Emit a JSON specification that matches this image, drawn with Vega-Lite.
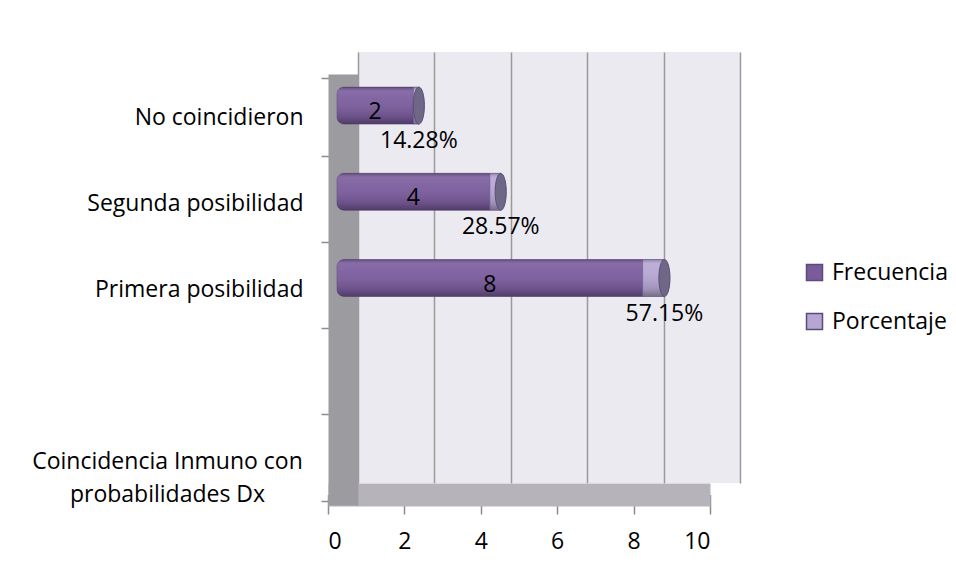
{
  "$schema": "https://vega.github.io/schema/vega-lite/v6.json",
  "width": 382,
  "height": 431,
  "autosize": {"type": "none"},
  "padding": {"left": 358, "top": 52, "right": 216, "bottom": 97},
  "background": "white",
  "config": {
    "view": {"fill": "#ECEAF1", "stroke": null},
    "font": "Open Sans",
    "text": {"font": "Open Sans"}
  },
  "data": {
    "values": [
      {"categoria": "Primera posibilidad", "serie": "Frecuencia", "valor": 8},
      {"categoria": "Primera posibilidad", "serie": "Porcentaje", "valor": 0.5715},
      {"categoria": "Segunda posibilidad", "serie": "Frecuencia", "valor": 4},
      {"categoria": "Segunda posibilidad", "serie": "Porcentaje", "valor": 0.2857},
      {"categoria": "No coincidieron", "serie": "Frecuencia", "valor": 2},
      {"categoria": "No coincidieron", "serie": "Porcentaje", "valor": 0.1428}
    ]
  },
  "transform": [
    {"stack": "valor", "groupby": ["categoria"], "sort": [{"field": "serie", "order": "ascending"}], "as": ["x0", "x1"]},
    {"calculate": "(datum.x0 + datum.x1) / 2", "as": "xm"}
  ],
  "resolve": {"axis": {"x": "independent", "y": "independent"}},
  "layer": [
    {
      "transform": [{"filter": "datum.serie == 'Frecuencia'"}],
      "mark": {"type": "bar", "height": 37, "cornerRadiusTopLeft": 7, "cornerRadiusBottomLeft": 7, "xOffset": -21, "x2Offset": -21, "yOffset": 10.5, "y2Offset": 10.5, "stroke": "#5E4A82", "strokeWidth": 0.8, "strokeOpacity": 0.7},
      "encoding": {
        "x": {"field": "x0", "type": "quantitative", "scale": {"domain": [0, 10], "nice": false},
          "axis": {"orient": "bottom", "grid": true, "gridColor": "#9A9A9A", "gridWidth": 1.5, "labels": false, "ticks": false, "domain": false, "title": null, "values": [0, 2, 4, 6, 8, 10]}},
        "x2": {"field": "x1"},
        "y": {"field": "categoria", "type": "nominal",
          "scale": {"domain": ["No coincidieron", "Segunda posibilidad", "Primera posibilidad", " ", "Coincidencia Inmuno con probabilidades Dx"]},
          "axis": {
            "orient": "left", "position": 22, "offset": 15, "title": null,
            "domain": true, "domainColor": "#9C9B9F", "domainWidth": 30,
            "ticks": true, "tickBand": "extent", "tickColor": "#8C8C8C", "tickSize": 22, "tickWidth": 1.5,
            "labelFont": "Open Sans", "labelFontSize": 23, "labelColor": "#000000", "labelLimit": 0,
            "labelLineHeight": 33,
            "labelExpr": "datum.value == 'Coincidencia Inmuno con probabilidades Dx' ? ['Coincidencia Inmuno con', 'probabilidades Dx'] : datum.value",
            "labelAlign": {"condition": {"test": "datum.value == 'Coincidencia Inmuno con probabilidades Dx'", "value": "center"}, "value": "right"},
            "labelPadding": {"condition": {"test": "datum.value == 'Coincidencia Inmuno con probabilidades Dx'", "value": 154}, "value": 18}
          }},
        "color": {"field": "serie", "type": "nominal",
          "scale": {"domain": ["Frecuencia", "Porcentaje"], "range": ["#7A5C9D", "#B5A6D3"]},
          "legend": {"orient": "none", "legendX": 445, "legendY": 209, "title": null, "symbolType": "square", "symbolSize": 256, "symbolStrokeColor": "#5B4A7A", "symbolStrokeWidth": 1.5, "labelFont": "Open Sans", "labelFontSize": 23, "labelColor": "#000000", "labelOffset": 6, "rowPadding": 25}}
      }
    },
    {
      "transform": [{"filter": "datum.serie == 'Frecuencia'"}],
      "mark": {"type": "bar", "height": 37, "cornerRadiusTopLeft": 7, "cornerRadiusBottomLeft": 7, "xOffset": -21, "x2Offset": -21, "yOffset": 10.5, "y2Offset": 10.5,
        "fill": {"gradient": "linear", "x1": 0, "y1": 0, "x2": 0, "y2": 1, "stops": [
          {"offset": 0, "color": "rgba(0,0,0,0.25)"},
          {"offset": 0.12, "color": "rgba(255,255,255,0.10)"},
          {"offset": 0.35, "color": "rgba(255,255,255,0.06)"},
          {"offset": 0.8, "color": "rgba(0,0,0,0.12)"},
          {"offset": 1, "color": "rgba(0,0,0,0.35)"}]}},
      "encoding": {
        "x": {"field": "x0", "type": "quantitative", "axis": null},
        "x2": {"field": "x1"},
        "y": {"field": "categoria", "type": "nominal", "axis": null}
      }
    },
    {
      "transform": [{"filter": "datum.serie == 'Porcentaje'"}],
      "mark": {"type": "bar", "height": 37, "xOffset": -21, "x2Offset": -21, "yOffset": 10.5, "y2Offset": 10.5, "stroke": "#5E4A82", "strokeWidth": 0.8, "strokeOpacity": 0.7},
      "encoding": {
        "x": {"field": "x0", "type": "quantitative", "axis": null},
        "x2": {"field": "x1"},
        "y": {"field": "categoria", "type": "nominal", "axis": null},
        "color": {"field": "serie", "type": "nominal",
          "legend": {"orient": "none", "legendX": 445, "legendY": 209, "title": null, "symbolType": "square", "symbolSize": 256, "symbolStrokeColor": "#5B4A7A", "symbolStrokeWidth": 1.5, "labelFont": "Open Sans", "labelFontSize": 23, "labelColor": "#000000", "labelOffset": 6, "rowPadding": 25}}
      }
    },
    {
      "transform": [{"filter": "datum.serie == 'Porcentaje'"}],
      "mark": {"type": "bar", "height": 37, "xOffset": -21, "x2Offset": -21, "yOffset": 10.5, "y2Offset": 10.5,
        "fill": {"gradient": "linear", "x1": 0, "y1": 0, "x2": 0, "y2": 1, "stops": [
          {"offset": 0, "color": "rgba(0,0,0,0.25)"},
          {"offset": 0.12, "color": "rgba(255,255,255,0.10)"},
          {"offset": 0.35, "color": "rgba(255,255,255,0.06)"},
          {"offset": 0.8, "color": "rgba(0,0,0,0.12)"},
          {"offset": 1, "color": "rgba(0,0,0,0.35)"}]}},
      "encoding": {
        "x": {"field": "x0", "type": "quantitative", "axis": null},
        "x2": {"field": "x1"},
        "y": {"field": "categoria", "type": "nominal", "axis": null}
      }
    },
    {
      "transform": [{"filter": "datum.serie == 'Porcentaje'"}],
      "mark": {"type": "point", "filled": true, "shape": "M0,-1A0.3,1 0 1,1 0,1A0.3,1 0 1,1 0,-1Z", "size": 1369, "fill": "#6F6786", "stroke": "#5B4D78", "strokeWidth": 1, "opacity": 1, "xOffset": -21, "yOffset": 10.5},
      "encoding": {
        "x": {"field": "x1", "type": "quantitative", "axis": null},
        "y": {"field": "categoria", "type": "nominal", "axis": null}
      }
    },
    {
      "transform": [{"filter": "datum.serie == 'Frecuencia'"}],
      "mark": {"type": "text", "font": "Open Sans", "fontSize": 23, "color": "#000000", "baseline": "middle", "align": "center", "dx": -21, "dy": 17},
      "encoding": {
        "x": {"field": "xm", "type": "quantitative",
          "axis": {"orient": "bottom", "position": -30, "offset": 11.5, "grid": false, "title": null,
            "domain": true, "domainColor": "#B6B3BA", "domainWidth": 23,
            "ticks": true, "tickColor": "#8C8C8C", "tickSize": 19.5, "tickWidth": 1.5,
            "values": [0, 2, 4, 6, 8, 10], "labelFont": "Open Sans", "labelFontSize": 23, "labelColor": "#000000", "labelPadding": 16}},
        "y": {"field": "categoria", "type": "nominal", "axis": null},
        "text": {"field": "valor", "type": "quantitative", "format": "d"}
      }
    },
    {
      "transform": [{"filter": "datum.serie == 'Porcentaje'"}],
      "mark": {"type": "text", "font": "Open Sans", "fontSize": 23, "color": "#000000", "baseline": "middle", "align": "center", "dx": -21, "dy": 46},
      "encoding": {
        "x": {"field": "x1", "type": "quantitative", "axis": null},
        "y": {"field": "categoria", "type": "nominal", "axis": null},
        "text": {"field": "valor", "type": "quantitative", "format": ".2%"}
      }
    }
  ]
}
